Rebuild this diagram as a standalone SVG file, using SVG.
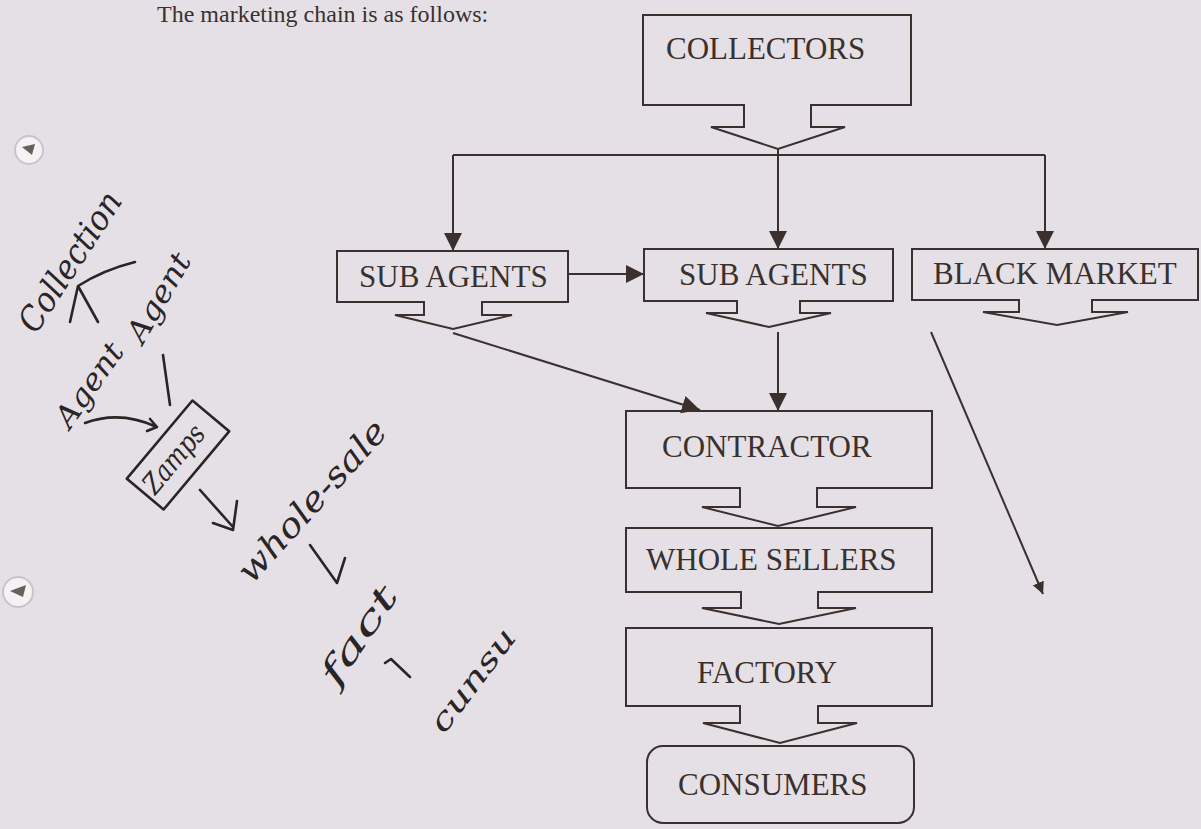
<svg xmlns="http://www.w3.org/2000/svg" width="1201" height="829" viewBox="0 0 1201 829">
<defs>
<style>
.bg{fill:#e5e0e6}
.box{fill:none;stroke:#3b302e;stroke-width:2;stroke-linejoin:miter}
.lbl{font-family:"Liberation Serif","Times New Roman",serif;font-size:31px;fill:#3a302d}
.con{fill:none;stroke:#3b302e;stroke-width:2}
.hw{fill:none;stroke:#2a2424;stroke-width:2.6;stroke-linecap:round;stroke-linejoin:round}
.hwt{font-family:"DejaVu Serif","Liberation Serif",serif;font-style:italic;fill:#2a2424}
</style>
<marker id="ah" markerUnits="userSpaceOnUse" markerWidth="20" markerHeight="20" refX="18" refY="9" orient="auto">
<path d="M0,0 L18,9 L0,18 Z" fill="#3b302e"/>
</marker>
<marker id="ahs" markerUnits="userSpaceOnUse" markerWidth="14" markerHeight="14" refX="12" refY="6" orient="auto">
<path d="M0,0 L12,6 L0,12 Z" fill="#3b302e"/>
</marker>
</defs>
<rect class="bg" x="0" y="0" width="1201" height="829"/>

<text x="157" y="22" font-family="Liberation Serif, serif" font-size="24" fill="#3a302d">The marketing chain is as follows:</text>

<g id="collectors">
<path class="box" d="M643,15 H911 V105 H811 V127 H845 L778,149 L711,127 H744 V105 H643 Z"/>
<text class="lbl" x="666" y="59">COLLECTORS</text>
</g>
<g id="sub-agents-1">
<path class="box" d="M337,251 H568 V302 H482 V315 H512 L453,329 L395,315 H424 V302 H337 Z"/>
<text class="lbl" x="359" y="287">SUB AGENTS</text>
</g>
<g id="sub-agents-2">
<path class="box" d="M644,249 H893 V301 H800 V313 H831 L769,327 L706,313 H737 V301 H644 Z"/>
<text class="lbl" x="679" y="285">SUB AGENTS</text>
</g>
<g id="black-market">
<path class="box" d="M912,249 H1198 V300 H1092 V312 H1128 L1057,325 L983,312 H1019 V300 H912 Z"/>
<text class="lbl" x="933" y="284">BLACK MARKET</text>
</g>
<g id="contractor">
<path class="box" d="M626,411 H932 V488 H817 V507 H856 L778,526 L702,507 H740 V488 H626 Z"/>
<text class="lbl" x="662" y="457">CONTRACTOR</text>
</g>
<g id="whole-sellers">
<path class="box" d="M626,528 H932 V592 H818 V608 H856 L779,624 L702,608 H741 V592 H626 Z"/>
<text class="lbl" x="646" y="570">WHOLE SELLERS</text>
</g>
<g id="factory">
<path class="box" d="M626,628 H932 V706 H818 V723 H857 L780,743 L703,723 H740 V706 H626 Z"/>
<text class="lbl" x="697" y="683">FACTORY</text>
</g>
<g id="consumers">
<rect class="box" x="647" y="746" width="267" height="77" rx="16" ry="16"/>
<text class="lbl" x="678" y="795">CONSUMERS</text>
</g>

<g id="connectors">
<path class="con" d="M453,155 H1045"/>
<path class="con" d="M778,149 V155"/>
<path class="con" d="M453,155 V251" marker-end="url(#ah)"/>
<path class="con" d="M778,155 V249" marker-end="url(#ah)"/>
<path class="con" d="M1045,155 V249" marker-end="url(#ah)"/>
<path class="con" d="M568,274 H644" marker-end="url(#ah)"/>
<path class="con" d="M453,333 L700,410" marker-end="url(#ah)"/>
<path class="con" d="M778,332 V411" marker-end="url(#ah)"/>
<path class="con" d="M931,332 L1043,594" marker-end="url(#ahs)"/>
</g>

<g id="punch-holes">
<circle cx="29" cy="150" r="14" fill="#f4f2f4" stroke="#c9c4ca" stroke-width="2"/>
<path d="M22,147 L35,144 L32,155 Z" fill="#6a5f5a"/>
<circle cx="18" cy="592" r="15" fill="#f4f2f4" stroke="#c9c4ca" stroke-width="2"/>
<path d="M10,591 L26,585 L23,597 Z" fill="#6a5f5a"/>
</g>

<g id="handwriting">
<text class="hwt" font-size="34" transform="translate(36,335) rotate(-57)" textLength="160" lengthAdjust="spacingAndGlyphs">Collection</text>
<path class="hw" d="M70,322 L78,286 L98,322 M78,286 Q103,270 135,262"/>
<text class="hwt" font-size="30" transform="translate(70,430) rotate(-55)" textLength="96" lengthAdjust="spacingAndGlyphs">Agent</text>
<text class="hwt" font-size="30" transform="translate(143,345) rotate(-60)" textLength="98" lengthAdjust="spacingAndGlyphs">Agent</text>
<path class="hw" d="M163,355 L170,405"/>
<path class="hw" d="M85,423 Q120,410 157,427 M150,419 L157,427 L147,431"/>
<rect class="hw" x="-51" y="-24" width="102" height="48" transform="translate(178,455) rotate(-50)"/>
<text class="hwt" font-size="28" text-anchor="middle" transform="translate(181,465) rotate(-50)" textLength="80" lengthAdjust="spacingAndGlyphs">Zamps</text>
<path class="hw" d="M200,490 L233,527 M213,523 L233,530 L237,501"/>
<text class="hwt" font-size="34" transform="translate(252,585) rotate(-48)" textLength="205" lengthAdjust="spacingAndGlyphs">whole-sale</text>
<path class="hw" d="M310,545 L337,583 L345,558"/>
<text class="hwt" font-size="34" transform="translate(337,688) rotate(-56)" textLength="112" lengthAdjust="spacingAndGlyphs">fact</text>
<path class="hw" d="M385,663 L391,659 L410,677"/>
<text class="hwt" font-size="30" transform="translate(444,735) rotate(-53)" textLength="122" lengthAdjust="spacingAndGlyphs">cunsu</text>
</g>
</svg>
